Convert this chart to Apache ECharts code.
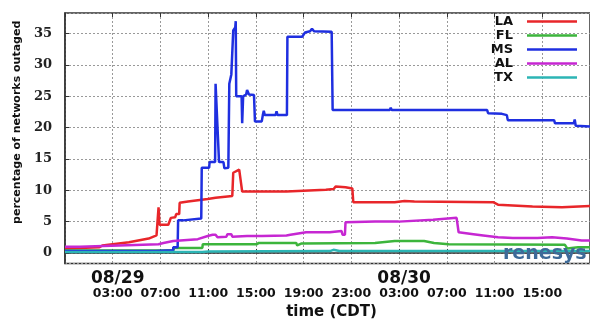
<!DOCTYPE html>
<html>
<head>
<meta charset="utf-8">
<script src="https://cdn.jsdelivr.net/npm/echarts@6/dist/echarts.min.js"></script>
<style>
  html, body { margin: 0; padding: 0; background: #fff; }
  #chart { width: 590px; height: 325px; }
</style>
</head>
<body>
<div id="chart"></div>
<script>
// x values are hours since 08/28 23:00 CDT
const START_HOUR = 23;
const DATE_LABELS = { 4: '08/29', 28: '08/30' };
const SERIES_NAMES = ['LA', 'FL', 'MS', 'AL', 'TX'];
const SERIES_COLORS = ['#e8262a', '#3cb53c', '#1f2fe0', '#c627d2', '#2cb5b5'];

const LA = [
  [0, 0.7], [2.89, 0.9], [3.13, 1.2], [5.36, 1.7], [7.01, 2.3], [7.67, 2.8], [7.79, 3.0],
  [7.84, 7.3], [7.92, 4.5], [8.66, 4.5], [8.74, 4.2], [8.87, 5.6], [9.24, 5.7], [9.32, 6.2],
  [9.57, 6.2], [9.61, 8.0], [10.31, 8.2], [10.47, 8.5], [11.96, 8.6], [12.62, 8.8], [12.78, 9.1],
  [14.02, 9.1], [14.1, 12.8], [14.6, 13.3], [14.76, 13.5], [14.85, 9.8], [18.56, 9.8],
  [21.86, 10.1], [22.52, 10.2], [22.68, 10.6], [23.51, 10.5], [23.67, 10.3], [24.08, 10.3],
  [24.16, 8.1], [27.63, 8.1], [28.45, 8.3], [29.28, 8.2], [35.88, 8.1], [36.29, 7.7],
  [39.18, 7.4], [41.65, 7.3], [44, 7.5]
];

const FL = [
  [0, 0.4], [9.07, 0.4], [9.15, 0.8], [11.51, 0.8], [11.55, 1.4], [16.08, 1.4], [16.25, 1.6],
  [19.38, 1.6], [19.46, 1.2], [19.79, 1.5], [25.98, 1.6], [27.63, 1.9], [30.1, 1.9],
  [30.93, 1.6], [32.16, 1.4], [41.9, 1.3], [42.1, 0.7], [43.0, 0.9], [44, 0.9]
];

const MS = [
  [0, 0.3], [7.6, 0.3], [7.6, 0.45], [9.07, 0.45], [9.07, 0.9], [9.44, 0.9], [9.48, 5.2],
  [9.9, 5.2], [9.9, 5.5], [11.42, 5.5], [11.46, 13.6], [12.08, 13.6], [12.12, 14.5],
  [12.58, 14.5], [12.62, 27], [12.7, 27.3], [12.91, 14.5], [13.28, 14.5], [13.36, 13.5],
  [13.69, 13.6], [13.77, 27], [13.86, 27], [13.94, 28.5], [14.1, 35.5], [14.27, 36],
  [14.31, 37], [14.35, 25], [14.8, 25], [14.85, 20.7], [14.93, 25], [15.18, 25.3],
  [15.26, 26], [15.42, 25.3], [15.84, 25.2], [15.92, 21], [16.49, 21], [16.58, 22],
  [16.66, 22.7], [16.74, 22], [17.65, 22], [17.73, 22.6], [17.81, 22], [18.6, 22],
  [18.64, 34.5], [19.88, 34.5], [20.12, 35.2], [20.54, 35.4], [20.7, 35.8], [20.87, 35.4],
  [22.35, 35.3], [22.43, 22.8], [27.22, 22.8], [27.3, 23.2], [27.38, 22.8], [35.38, 22.8],
  [35.46, 22.3], [36.62, 22.2], [37.03, 22.0], [37.11, 21.2], [40.99, 21.2], [41.07, 20.7],
  [42.64, 20.7], [42.72, 21.3], [42.8, 20.3], [44, 20.2]
];

const AL = [
  [0, 1.0], [1.24, 1.0], [1.28, 1.3], [7.84, 1.4], [8.25, 1.6], [9.07, 1.9], [11.13, 2.2],
  [11.22, 2.5], [11.96, 2.7], [12.37, 2.9], [12.62, 2.9], [12.78, 2.5], [13.53, 2.6],
  [13.61, 3.0], [13.94, 3.0], [14.02, 2.6], [15.26, 2.7], [16.49, 2.7], [18.56, 2.8],
  [18.89, 2.9], [18.97, 3.2], [20.21, 3.3], [22.19, 3.3], [22.27, 3.6], [23.18, 3.5],
  [23.26, 2.9], [23.46, 2.9], [23.51, 4.9], [25.98, 5.0], [27.96, 5.0], [28.04, 5.3],
  [30.85, 5.3], [30.93, 5.6], [32.82, 5.6], [32.99, 3.3], [34.23, 3.0], [35.05, 2.8],
  [36.29, 2.5], [37.53, 2.4], [39.59, 2.4], [40.82, 2.5], [42.06, 2.3], [43.3, 2.0], [44, 2.0]
];

const TX = [
  [0, 0.15], [11.5, 0.15], [12, 0.25], [22.2, 0.3], [22.5, 0.5], [23, 0.3], [44, 0.3]
];

const SERIES_DATA = [LA, FL, MS, AL, TX];

const chart = echarts.init(document.getElementById('chart'));

function hourLabel(v) {
  const hh = (START_HOUR + v) % 24;
  const t = String(hh).padStart(2, '0') + ':00';
  const d = DATE_LABELS[v] || ' ';
  return '{d|' + d + '}\n{t|' + t + '}';
}

const gridLine = { show: true, lineStyle: { color: '#999', type: [2, 2], width: 1 } };

chart.setOption({
  animation: false,
  grid: {
    left: 65, top: 13, width: 533.5, bottom: 58,
    show: true, borderColor: '#333', borderWidth: 1.5
  },
  legend: {
    data: SERIES_NAMES,
    orient: 'vertical',
    right: 13, top: 15,
    align: 'right',
    padding: 0,
    itemGap: 1,
    itemWidth: 50, itemHeight: 2.5,
    icon: 'rect',
    textStyle: {
      fontFamily: 'DejaVu Sans', fontWeight: 'bold', fontSize: 13, color: '#111',
      padding: [0, 9, 0, 0]
    }
  },
  xAxis: [{
    type: 'value',
    min: 0, max: 44, interval: 4,
    name: 'time (CDT)',
    nameLocation: 'middle', nameGap: 41,
    nameTextStyle: { fontFamily: 'DejaVu Sans', fontWeight: 'bold', fontSize: 15, color: '#111', padding: [0, 0, 0, 8] },
    axisLine: { show: true, lineStyle: { color: '#333', width: 1.5 } },
    axisTick: { show: true, inside: true, length: 4, lineStyle: { color: '#333' } },
    axisLabel: {
      margin: 6, color: '#111',
      showMinLabel: false, showMaxLabel: false,
      formatter: hourLabel,
      rich: {
        d: { fontFamily: 'DejaVu Sans', fontWeight: 'bold', fontSize: 17, lineHeight: 17, padding: [0, 0, 0, 10] },
        t: { fontFamily: 'DejaVu Sans', fontWeight: 'bold', fontSize: 12.5, lineHeight: 14 }
      }
    },
    splitLine: gridLine
  }, {
    type: 'value',
    position: 'top',
    min: 0, max: 44, interval: 4,
    axisLine: { show: false },
    axisTick: { show: true, inside: true, length: 4, lineStyle: { color: '#333' } },
    axisLabel: { show: false },
    splitLine: { show: false }
  }],
  yAxis: {
    type: 'value',
    min: -1.7, max: 38.3, splitNumber: 8,
    name: 'percentage of networks outaged',
    nameLocation: 'middle', nameGap: 38,
    nameTextStyle: {
      fontFamily: 'DejaVu Sans', fontWeight: 'bold', fontSize: 11, color: '#111',
      padding: [0, 0, 0, 32]
    },
    axisLine: { show: true, lineStyle: { color: '#333', width: 1.5 } },
    axisTick: { show: true, inside: true, length: 4, lineStyle: { color: '#333' } },
    axisLabel: {
      fontFamily: 'DejaVu Serif', fontWeight: 'bold', fontSize: 13, color: '#222', margin: 13,
      showMinLabel: false, showMaxLabel: false
    },
    splitLine: gridLine
  },
  graphic: [{
    type: 'text', left: 503, top: 245, z: 100,
    style: { text: 'renesys', font: 'bold 19px "DejaVu Sans"', fill: '#3d6a98' }
  }],
  series: SERIES_NAMES.map((name, i) => ({
    name: name,
    type: 'line',
    data: SERIES_DATA[i],
    symbol: 'none',
    lineStyle: { color: SERIES_COLORS[i], width: 2.5 },
    itemStyle: { color: SERIES_COLORS[i] }
  }))
});
</script>
</body>
</html>
